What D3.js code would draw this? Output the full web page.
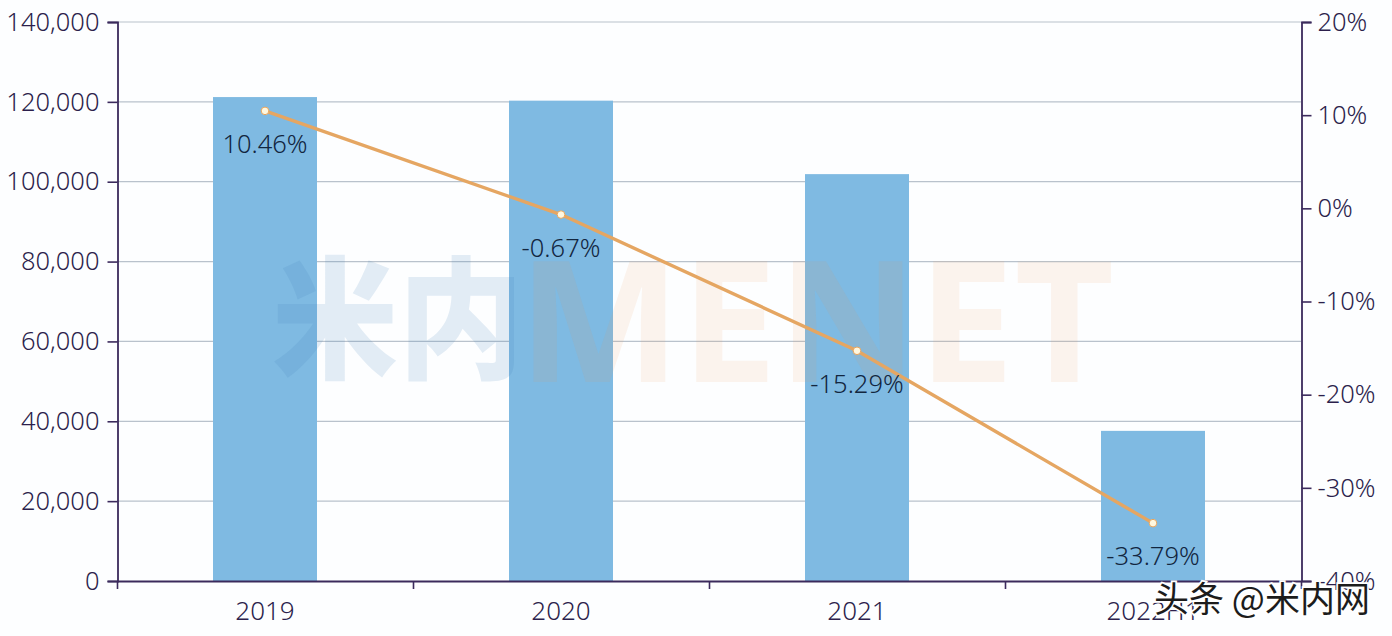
<!DOCTYPE html>
<html><head><meta charset="utf-8">
<script src="https://cdn.jsdelivr.net/npm/d3@7"></script>
<style>html,body{margin:0;padding:0;background:#fdfeff;overflow:hidden}svg{display:block}text{font-family:"Noto Sans","Open Sans",sans-serif}</style>
</head><body><svg id="c" width="1392" height="636"></svg>
<script>
const categories=["2019","2020","2021","2022H1"];
const sales=[121200,120300,101900,37600];
const growth=[10.46,-0.67,-15.29,-33.79];
const growthLabels=["10.46%","-0.67%","-15.29%","-33.79%"];
const leftTicks=[0,20000,40000,60000,80000,100000,120000,140000];
const rightTicks=[-40,-30,-20,-10,0,10,20];
const axisColor="#3b2a5c", textColor="#2c1f4c";
const svg=d3.select("#c");
const x=d3.scaleBand().domain(categories).range([117,1301]);
const yL=d3.scaleLinear().domain([0,140000]).range([581,22]);
const yR=d3.scaleLinear().domain([-40,20]).range([581,22]);
const barW=104;

svg.append("g").selectAll("line").data(leftTicks.slice(1)).join("line")
 .attr("x1",117).attr("x2",1301).attr("y1",d=>yL(d)).attr("y2",d=>yL(d))
 .attr("stroke","#b9c2cc").attr("stroke-width",1.2);

svg.append("g").selectAll("rect").data(categories).join("rect")
 .attr("x",d=>x(d)+x.bandwidth()/2-barW/2).attr("width",barW)
 .attr("y",(d,i)=>yL(sales[i])).attr("height",(d,i)=>581-yL(sales[i]))
 .attr("fill","#7fbae2");

// watermark
svg.append("text").text("米内").attr("x",272).attr("y",368).attr("font-size",132).attr("font-weight",900)
 .attr("textLength",252).attr("lengthAdjust","spacingAndGlyphs")
 .style("font-family",'"Noto Sans CJK SC"').attr("fill","#3f80b5").attr("fill-opacity",.14);
svg.append("text").text("MENET").attr("x",518).attr("y",382).attr("font-size",168).attr("font-weight",700)
 .attr("textLength",596).attr("lengthAdjust","spacingAndGlyphs").attr("fill","#f0974a").attr("fill-opacity",.1);

const axL=d3.axisLeft(yL).tickValues(leftTicks).tickFormat(d3.format(",")).tickSize(10).tickPadding(8);
const gL=svg.append("g").attr("transform","translate(117.5,0)").call(axL);
const axR=d3.axisRight(yR).tickValues(rightTicks).tickFormat(d=>d+"%").tickSize(10).tickPadding(6);
const gR=svg.append("g").attr("transform","translate(1301.5,0)").call(axR);
const axB=d3.axisBottom(x).tickValues([]).tickSizeOuter(0);
const gB=svg.append("g").attr("transform","translate(0,581)").call(axB);
gB.selectAll(".sep").data(d3.range(categories.length+1)).join("line").attr("class","sep")
 .attr("x1",i=>117.5+i*x.step()).attr("x2",i=>117.5+i*x.step()).attr("y1",0).attr("y2",8)
 .attr("stroke",axisColor).attr("stroke-width",1.6);
gB.selectAll(".lab").data(categories).join("text").attr("class","lab")
 .attr("x",d=>x(d)+x.bandwidth()/2).attr("y",39).attr("text-anchor","middle")
 .attr("font-size",26).attr("font-weight",300).attr("fill",textColor).text(d=>d);
[gL,gR,gB].forEach(g=>{g.selectAll(".domain").attr("stroke",axisColor).attr("stroke-width",1.8);
 g.selectAll(".tick line").attr("stroke",axisColor).attr("stroke-width",1.6);
 g.selectAll(".tick text").attr("font-size",25.5).attr("font-weight",300).attr("fill",textColor);});
gB.raise();

const cx=d=>x(d)+x.bandwidth()/2;
svg.append("path").attr("d",d3.line().x(d=>cx(d)).y((d,i)=>yR(growth[i]))(categories))
 .attr("fill","none").attr("stroke","#e5a662").attr("stroke-width",3.4);
svg.append("g").selectAll("circle").data(categories).join("circle")
 .attr("cx",cx).attr("cy",(d,i)=>yR(growth[i])).attr("r",3.8)
 .attr("fill","#fff8e0").attr("stroke","#e8a55e").attr("stroke-width",1);
svg.append("g").selectAll("text").data(categories).join("text")
 .attr("x",cx).attr("y",(d,i)=>yR(growth[i])+42).attr("text-anchor","middle")
 .attr("font-size",25.5).attr("font-weight",300).attr("fill","#12263f").text((d,i)=>growthLabels[i]);

// platform signature
svg.append("text").attr("x",1154).attr("y",612).attr("font-size",35)
 .style("font-family",'"Noto Sans CJK SC"').attr("fill","#1c1c1c").attr("stroke","#fff").attr("stroke-width",3.5)
 .attr("paint-order","stroke").text("头条 @米内网");
</script></body></html>
